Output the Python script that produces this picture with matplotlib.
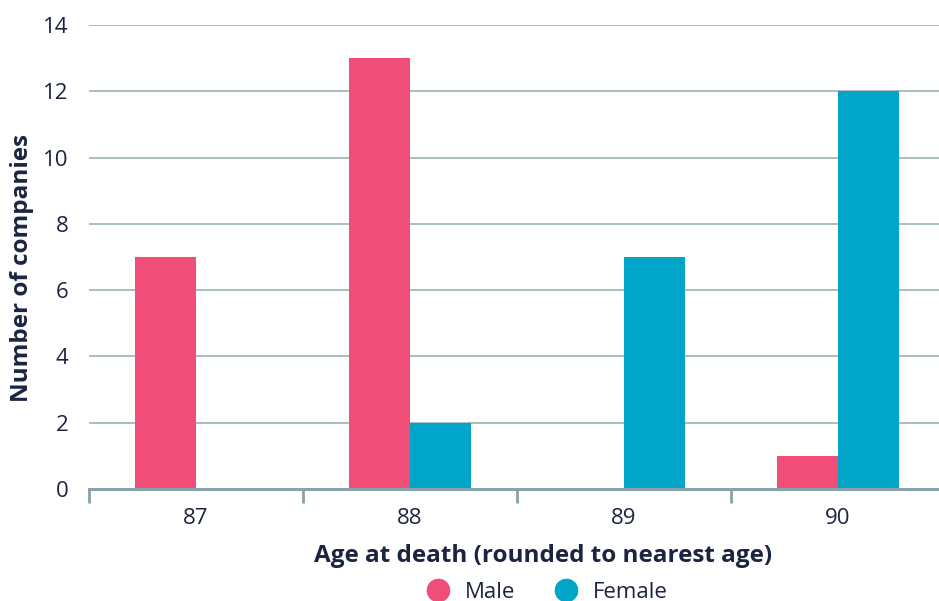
import numpy as np
import matplotlib.pyplot as plt

ages = ["87", "88", "89", "90"]
male = [7, 13, 0, 1]
female = [0, 2, 7, 12]

PINK = "#f04e78"
TEAL = "#00a5c8"
TEXT = "#1b2440"
GRID = "#a3b8bd"
AXIS = "#86a3a9"

plt.rcParams["font.family"] = ["Open Sans", "DejaVu Sans"]

fig = plt.figure(figsize=(9.39, 6.01), dpi=100)
ax = fig.add_axes([89 / 939, 112 / 601, 856 / 939, 464 / 601])

x = np.arange(len(ages))
w = 0.285
ax.bar(x - w / 2, male, width=w, color=PINK, label="Male", zorder=3)
ax.bar(x + w / 2, female, width=w, color=TEAL, label="Female", zorder=3)

ax.set_xlim(-0.5, len(ages) - 0.5)
ax.set_ylim(0, 14)
ax.set_yticks(range(0, 15, 2))
ax.yaxis.grid(True, color=GRID, linewidth=1.3, zorder=0)
ax.tick_params(axis="y", length=0, pad=15, labelsize=16, labelcolor=TEXT)

# category labels at centres, tick marks between categories
ax.set_xticks(x)
ax.set_xticklabels(ages)
ax.set_xticks(np.arange(-0.5, len(ages), 1), minor=True)
ax.tick_params(axis="x", which="major", length=0, pad=14, labelsize=16, labelcolor=TEXT)
ax.tick_params(axis="x", which="minor", length=10, width=2, color=AXIS, direction="out")

for s in ["top", "right", "left"]:
    ax.spines[s].set_visible(False)
ax.spines["bottom"].set_color(AXIS)
ax.spines["bottom"].set_linewidth(2.2)
ax.spines["bottom"].set_zorder(4)

ax.set_ylabel("Number of companies", fontsize=17.5, fontweight="bold", color=TEXT)
ax.set_xlabel("Age at death (rounded to nearest age)", fontsize=17.5, fontweight="bold",
              color=TEXT)
ax.yaxis.set_label_coords(-0.064, 0.477)
ax.xaxis.set_label_coords(0.53, -0.118)

handles = [plt.Line2D([], [], marker="o", linestyle="", markersize=16, color=c) for c in (PINK, TEAL)]
fig.legend(handles, ["Male", "Female"], loc="center", bbox_to_anchor=(542 / 939, 9 / 601),
           ncol=2, frameon=False, fontsize=16, labelcolor=TEXT, handletextpad=0.2,
           columnspacing=1.3)

fig.savefig("out.png", dpi=100)
